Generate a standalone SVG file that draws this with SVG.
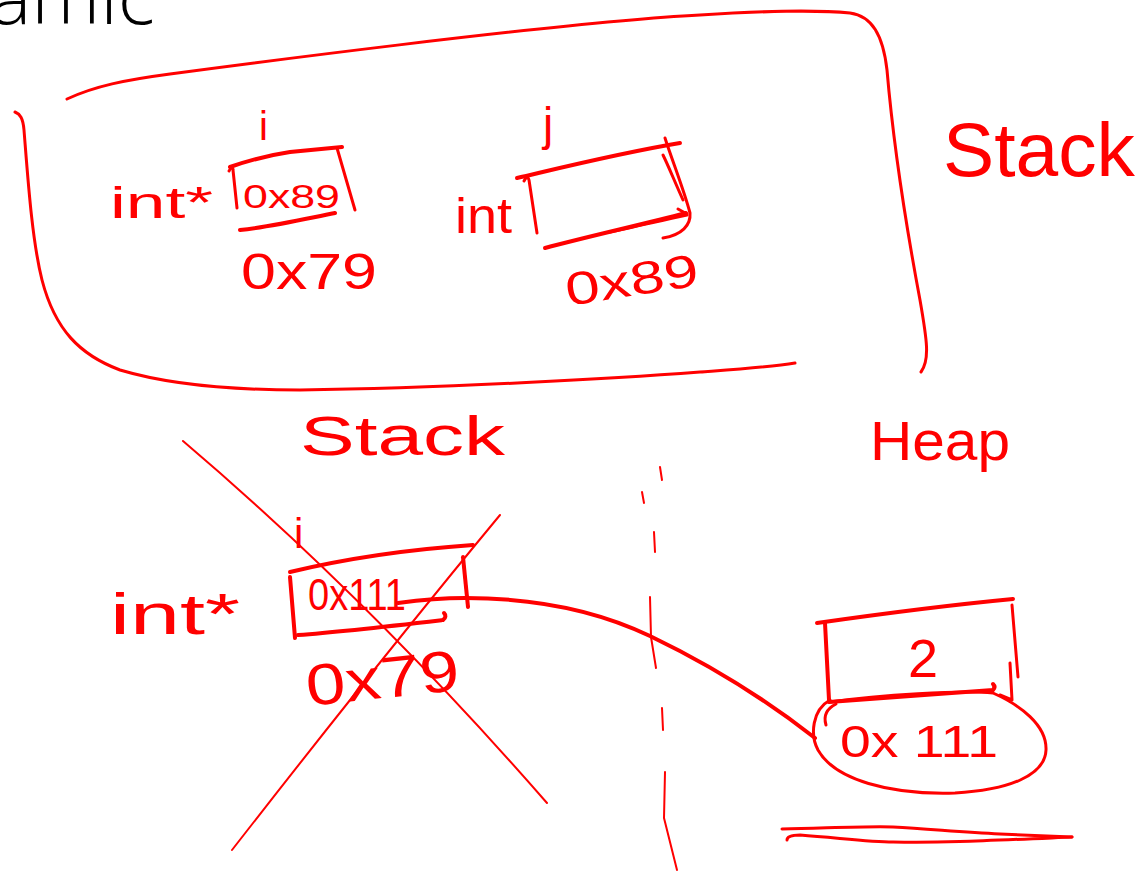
<svg xmlns="http://www.w3.org/2000/svg" width="1142" height="872" viewBox="0 0 1142 872">
  <style>
    .ink { fill: none; stroke: #ff0000; stroke-linecap: round; stroke-linejoin: round; stroke-width: 3; }
    .thick { stroke-width: 4; }
    .thin { stroke-width: 2; }
    .hand { fill: #ff0000; font-family: "Liberation Sans", "DejaVu Sans", sans-serif; }
    .title { fill: #000000; font-family: "Open Sans", "Noto Sans", sans-serif; font-weight: 300; }
  </style>

  <rect x="0" y="0" width="1142" height="872" fill="#ffffff"/>

  <!-- slide title, clipped at the top-left corner -->
  <text class="title" x="-10" y="24" font-size="78">amic</text>

  <!-- stack frame outline -->
  <g id="stack-frame">
    <path class="ink" d="M67,99 C95,86 125,80 170,74 S560,22 700,15 C760,11 820,10 850,13 C872,16 883,35 887,70 C893,140 905,220 920,300 C927,340 930,360 921,372"/>
    <path class="ink" d="M15,112 C20,114 23,118 24,130 C28,180 32,240 42,280 C55,330 80,355 120,370 C170,385 230,390 300,390 C450,388 620,378 700,372 C740,369 770,367 795,363"/>
  </g>

  <!-- pointer variable i inside the frame -->
  <g id="frame-var-i">
    <text class="hand" x="259" y="140" font-size="40">i</text>
    <text class="hand" x="110" y="218" font-size="44" textLength="103" lengthAdjust="spacingAndGlyphs">int*</text>
    <path class="ink thick" d="M230,167 C250,160 270,155 290,152 L342,147"/>
    <path class="ink" d="M229,171 C231,167 233,167 233,170 L237,208"/>
    <path class="ink" d="M337,148 L355,210"/>
    <path class="ink thick" d="M240,230 C270,227 300,220 335,213"/>
    <text class="hand" x="243" y="208" font-size="34" textLength="97" lengthAdjust="spacingAndGlyphs">0x89</text>
    <text class="hand" x="241" y="289" font-size="50" textLength="136" lengthAdjust="spacingAndGlyphs">0x79</text>
  </g>

  <!-- int variable j inside the frame -->
  <g id="frame-var-j">
    <text class="hand" x="543" y="140" font-size="46">j</text>
    <text class="hand" x="455" y="233" font-size="50" textLength="57" lengthAdjust="spacingAndGlyphs">int</text>
    <path class="ink thick" d="M517,178 C560,168 620,153 680,143"/>
    <path class="ink" d="M524,181 C526,177 528,176 529,180 L537,233"/>
    <path class="ink" d="M665,138 C672,160 684,190 690,213 C691,225 682,235 663,238"/>
    <path class="ink" d="M663,155 C668,165 674,180 683,200"/>
    <path class="ink thick" d="M545,248 C590,236 640,225 686,213"/>
    <path class="ink" d="M610,232 C630,228 655,222 687,215 M678,209 L687,214"/>
    <text class="hand" x="568" y="306" font-size="46" textLength="134" lengthAdjust="spacingAndGlyphs" transform="rotate(-9 568 306)">0x89</text>
  </g>

  <!-- region captions -->
  <g id="caption-stack-right">
    <text class="hand" x="943" y="176" font-size="76" textLength="192" lengthAdjust="spacingAndGlyphs">Stack</text>
  </g>
  <g id="caption-stack">
    <text class="hand" x="300" y="455" font-size="56" textLength="205" lengthAdjust="spacingAndGlyphs">Stack</text>
  </g>
  <g id="caption-heap">
    <text class="hand" x="870" y="460" font-size="56" textLength="140" lengthAdjust="spacingAndGlyphs">Heap</text>
  </g>

  <!-- stack / heap divider -->
  <g id="divider">
    <path class="ink thin" d="M660,467 L662,480"/>
    <path class="ink thin" d="M642,492 L644,503"/>
    <path class="ink thin" d="M654,532 L655,552"/>
    <path class="ink thin" d="M650,597 L651,637 L656,668"/>
    <path class="ink thin" d="M662,708 L663,730"/>
    <path class="ink thin" d="M665,772 L664,818 L677,870"/>
  </g>

  <!-- crossed-out pointer variable i on the stack -->
  <g id="stack-var-i">
    <text class="hand" x="294" y="548" font-size="42">i</text>
    <text class="hand" x="110" y="634" font-size="58" textLength="130" lengthAdjust="spacingAndGlyphs">int*</text>
    <path class="ink thick" d="M290,572 C340,560 400,550 473,545"/>
    <path class="ink thick" d="M290,577 L295,638"/>
    <path class="ink thick" d="M463,557 L468,607"/>
    <path class="ink thick" d="M298,635 C340,632 400,625 443,620 C446,618 446,615 444,613"/>
    <text class="hand" x="308" y="610" font-size="44" textLength="98" lengthAdjust="spacingAndGlyphs">0x111</text>
    <text class="hand" x="308" y="706" font-size="58" textLength="154" lengthAdjust="spacingAndGlyphs" transform="rotate(-6 308 706)">0x79</text>
    <path class="ink thin" d="M183,441 Q370,600 547,803"/>
    <path class="ink thin" d="M500,515 Q380,660 232,850"/>
  </g>

  <!-- heap cell holding 2 at address 0x111 -->
  <g id="heap-cell">
    <path class="ink thick" d="M817,623 C880,614 950,605 1013,599"/>
    <path class="ink thick" d="M825,623 L829,700"/>
    <path class="ink" d="M1012,605 L1018,677"/>
    <path class="ink" d="M1010,663 L1012,700 L1000,695"/>
    <path class="ink thick" d="M829,702 C880,698 940,694 993,690 C995,688 995,686 993,684"/>
    <text class="hand" x="923" y="677" font-size="54" text-anchor="middle">2</text>
    <path class="ink" d="M830,700 C812,710 810,735 818,750 C835,780 890,795 955,793 C1010,790 1045,775 1046,750 C1047,725 1020,705 993,693 C960,690 880,695 830,702"/>
    <path class="ink" d="M826,725 C823,715 828,708 836,704"/>
    <text class="hand" x="840" y="757" font-size="44" textLength="158" lengthAdjust="spacingAndGlyphs">0x 111</text>
  </g>

  <!-- floor line under the heap -->
  <g id="heap-floor">
    <path class="ink" d="M782,829 C830,828 870,826 893,827 C930,829 960,832 1000,834 L1072,837"/>
    <path class="ink" d="M787,840 C787,836 792,835 800,835 C840,838 870,842 893,842 C940,843 980,841 1072,837"/>
  </g>

  <!-- pointer from the stack slot to the heap cell -->
  <g id="connectors">
    <path class="ink thick" d="M398,603 C420,600 440,598 465,598 C540,598 600,612 650,636 C700,660 760,695 815,738"/>
  </g>
</svg>
